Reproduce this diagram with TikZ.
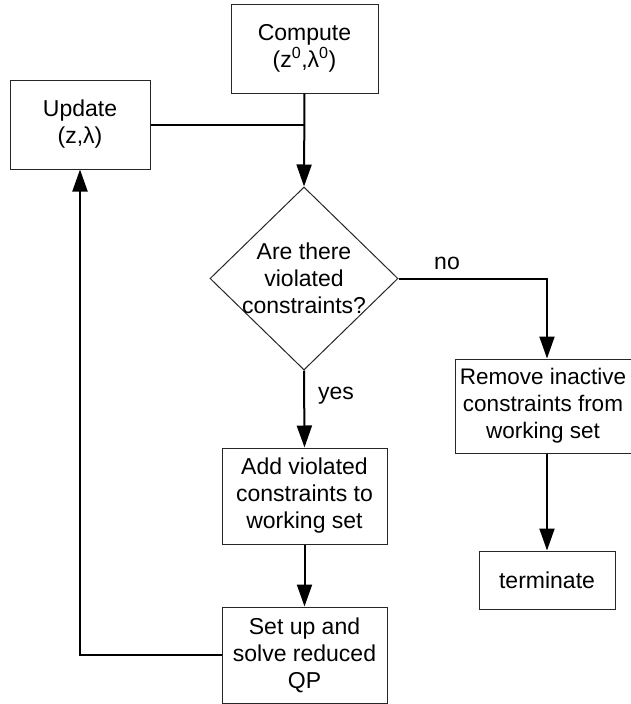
\documentclass[tikz,border=0pt]{standalone}
\usepackage{fontspec}
\setmainfont{Liberation Sans}
\usetikzlibrary{shapes.geometric,arrows.meta}
\begin{document}
\begin{tikzpicture}[x=1pt,y=-1pt,
  box/.style={draw=black!85,line width=1pt,rectangle,inner sep=0pt,align=center,
    font=\fontsize{23}{27}\selectfont},
  conn/.style={line width=2pt},
  arr/.style={conn,-{Triangle[length=22pt,width=15pt]}},
  lbl/.style={font=\fontsize{23}{27}\selectfont,inner sep=0pt}]
\useasboundingbox (0,0) rectangle (630,704);
\node[box,minimum width=147pt,minimum height=89pt] (compute) at (304.5,48.5) {Compute\\(z\textsuperscript{0},λ\textsuperscript{0})};
\node[box,minimum width=140pt,minimum height=89pt] (update) at (80,124.5) {Update\\(z,λ)};
\node[draw=black!85,line width=1pt,diamond,inner sep=0pt,minimum width=188pt,minimum height=183pt] (dia) at (304,278.5) {};
\node[lbl,align=center] (diatext) at (dia.center) {Are there\\violated\\constraints?};
\node[box,minimum width=165pt,minimum height=96pt] (add) at (304.5,496) {Add violated\\constraints to\\working set};
\node[box,minimum width=165pt,minimum height=96pt] (setup) at (304.5,655) {Set up and\\solve reduced\\QP};
\node[box,minimum width=184pt,minimum height=94pt] (remove) at (547,406) {};
\node[lbl,align=center,font=\fontsize{22.5}{27}\selectfont] (removetext) at (543,406) {Remove inactive\\constraints from\\working set};
\node[box,minimum width=136pt,minimum height=58pt] (term) at (547,580) {terminate};
\coordinate (join) at (304,124.5);
\coordinate (nocorner) at (547,278.5);
\coordinate (loopcorner) at (80,655);
\draw[conn] (update.east) -- (join);
\draw[arr] (compute.south) -- (dia.north);
\draw[arr] (dia.east) -- (nocorner) -- (remove.north);
\node[lbl] (no) at (447,263) {no};
\draw[arr] (dia.south) -- (add.north);
\node[lbl] (yes) at (336,396) {yes};
\draw[arr] (add.south) -- (setup.north);
\draw[arr] (remove.south) -- (term.north);
\draw[arr] (setup.west) -- (loopcorner) -- (update.south);
\end{tikzpicture}
\end{document}
